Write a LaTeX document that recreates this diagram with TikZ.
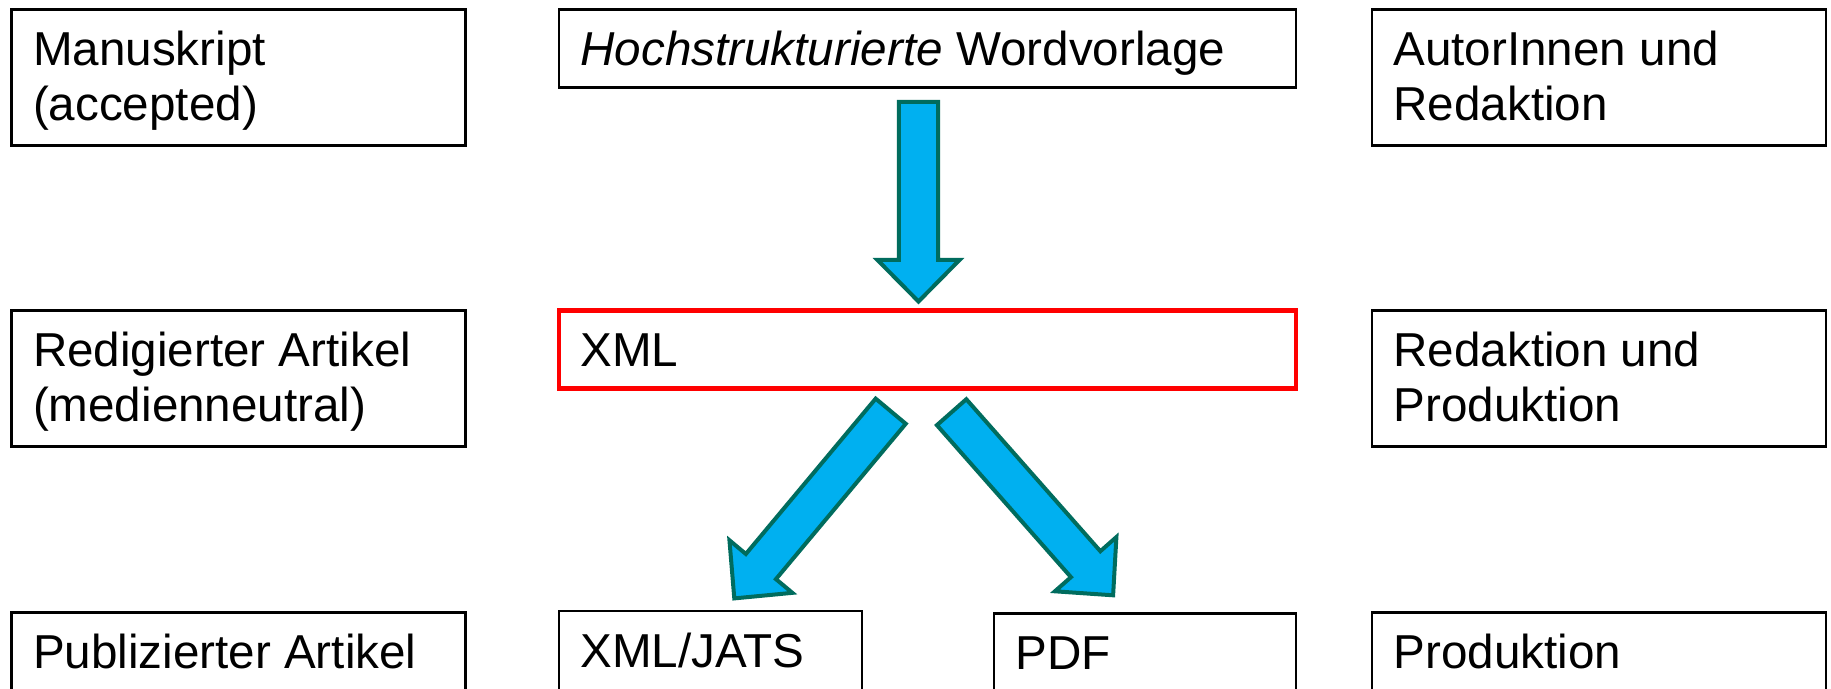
\documentclass[tikz,border=0pt]{standalone}
\usepackage{fontspec}
\setmainfont{Liberation Sans}
\usetikzlibrary{calc}
\definecolor{arrowfill}{HTML}{00B0F0}
\definecolor{arrowline}{RGB}{0,108,94}
\newcommand\boxfont{\fontsize{23.8pt}{27.75pt}\selectfont}
\newcommand\boxtext[3]{\parbox[t][#2][t]{#1}{\raggedright\rule{0pt}{28pt}#3}}
\tikzset{
  box/.style={draw=black, line width=1.25pt, rectangle, anchor=north west,
    inner xsep=10.75pt, inner ysep=0pt, outer sep=0pt, font=\boxfont},
  redbox/.style={box, draw=red, line width=2.4pt},
  barrow/.style={fill=arrowfill, draw=arrowline, line width=2pt, line join=miter},
}
\newcommand\blockarrow[2]{%
  \path ($(#2)!20.75pt!(#1)$) coordinate (#1b);
  \draw[barrow] ($(#1)!9.8pt!90:(#2)$) -- ($(#1b)!9.8pt!90:(#2)$)
    -- ($(#1b)!20.5pt!90:(#2)$) -- (#2) -- ($(#1b)!20.5pt!-90:(#2)$)
    -- ($(#1b)!9.8pt!-90:(#2)$) -- ($(#1)!9.8pt!-90:(#2)$) -- cycle;}
\begin{document}
\begin{tikzpicture}[x=0.5pt,y=-0.5pt]
\useasboundingbox (0,0) rectangle (1831,689);
\fill[white] (0,0) rectangle (1831,689);
% row 1
\node[box] (manu) at (11.5,9.3) {\boxtext{205.5pt}{68pt}{Manuskript\\(accepted)}};
\node[box] (hoch) at (559,9.3) {\boxtext{347pt}{39pt}{\textit{Hochstrukturierte} Wordvorlage}};
\node[box] (autor) at (1372,9.3) {\boxtext{205.5pt}{68pt}{AutorInnen und\\Redaktion}};
% row 2
\node[box] (redig) at (11.5,310.5) {\boxtext{205.5pt}{68pt}{Redigierter Artikel\\(medienneutral)}};
\node[redbox] (xml) at (559,310.5) {\boxtext{347pt}{39pt}{XML}};
\node[box] (redprod) at (1372,310.5) {\boxtext{205.5pt}{68pt}{Redaktion und\\Produktion}};
% row 3
\node[box] (publ) at (11.5,612.5) {\boxtext{205.5pt}{48pt}{Publizierter Artikel}};
\node[box] (jats) at (559,611) {\boxtext{130pt}{48pt}{XML/JATS}};
\node[box] (pdf) at (994,613.5) {\boxtext{129.5pt}{48pt}{PDF}};
\node[box] (prod) at (1372,612.5) {\boxtext{205.5pt}{48pt}{Produktion}};
% arrows
\coordinate (a1s) at (918.5,102);
\coordinate (a1e) at (918.5,301.5);
\coordinate (a2s) at (890.7,411.2);
\coordinate (a2e) at (734.3,598.4);
\coordinate (a3s) at (951.6,412.2);
\coordinate (a3e) at (1113.1,595.3);
\blockarrow{a1s}{a1e}
\blockarrow{a2s}{a2e}
\blockarrow{a3s}{a3e}
\end{tikzpicture}
\end{document}
